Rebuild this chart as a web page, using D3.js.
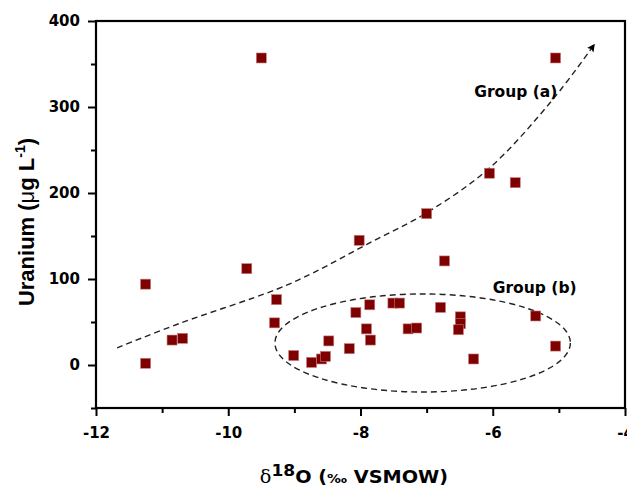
<!DOCTYPE html>
<html>
<head>
<meta charset="utf-8">
<script src="https://cdn.jsdelivr.net/npm/d3@7"></script>
<style>
  body { margin: 0; background: #fff; }
  svg text { font-family: "DejaVu Sans", Arial, sans-serif; font-weight: bold; }
</style>
</head>
<body>
<div id="chart"></div>
<script>
    // Data
    var d18O = [-11.25, -11.25, -10.85, -10.69, -9.72, -9.50, -9.27, -9.30, -9.01, -8.74,
                -8.59, -8.53, -8.48, -8.17, -8.07, -8.02, -7.86, -7.91, -7.85, -7.51,
                -7.41, -7.28, -7.15, -7.00, -6.79, -6.73, -6.49, -6.49, -6.52, -6.29,
                -6.05, -5.66, -5.35, -5.05, -5.05];
    var uranium = [2, 94, 29, 31, 112, 357, 76, 49, 11, 3,
                   7, 10, 28, 19, 61, 145, 70, 42, 29, 72,
                   72, 42, 43, 176, 67, 121, 56, 48, 41, 7,
                   223, 212, 57, 22, 357];

    // Group (a) trend curve (x, y pairs in data units)
    var trendX = [-11.68, -10.73, -9.27, -8.72, -7.91, -7.0, -6.05, -5.1, -4.47];
    var trendY = [20, 48.5, 88, 107, 140, 177, 229, 308, 372];

    // Group (b) ellipse in data units
    var ellipseCenter = [-7.06, 25.6];
    var ellipseRadius = [2.234, 57];

    var xTicks = [-12, -10, -8, -6, -4];
    var yTicks = [0, 100, 200, 300, 400];

    // Chart dimensions
    var margin = { top: 21, right: 2, bottom: 81, left: 96 };
    var width = 627 - margin.left - margin.right;
    var height = 489 - margin.top - margin.bottom;

    var svg = d3.select("#chart")
      .append("svg")
      .attr("width", 627)
      .attr("height", 489);

    var g = svg.append("g")
      .attr("transform", "translate(" + margin.left + "," + margin.top + ")");

    var xScale = d3.scaleLinear().domain([-12, -4]).range([0, width]);
    var yScale = d3.scaleLinear().domain([-50, 400]).range([height, 0]);

    // plain hyphen for negative labels
    var plain = function (d) { return String(d); };

    // Minor ticks
    var xMinor = d3.axisBottom(xScale).tickValues([-11, -9, -7, -5]).tickSize(5).tickFormat("");
    var yMinor = d3.axisLeft(yScale).tickValues([-50, 50, 150, 250, 350]).tickSize(5).tickFormat("");

    g.append("g").attr("transform", "translate(0," + height + ")").call(xMinor);
    g.append("g").call(yMinor);

    // Major axes
    var xAxis = d3.axisBottom(xScale).tickValues(xTicks).tickSize(8).tickPadding(8).tickFormat(plain);
    var yAxis = d3.axisLeft(yScale).tickValues(yTicks).tickSize(8).tickPadding(8).tickFormat(plain);

    g.append("g")
      .attr("class", "x-axis")
      .attr("transform", "translate(0," + height + ")")
      .call(xAxis);

    g.append("g")
      .attr("class", "y-axis")
      .call(yAxis);

    g.selectAll(".domain").remove();
    g.selectAll(".tick line").attr("stroke", "#000").attr("stroke-width", 2);
    g.selectAll(".tick text")
      .attr("fill", "#000")
      .style("font-size", "15px");
    g.selectAll(".x-axis .tick text").attr("dy", "0.9em");

    // Frame
    g.append("rect")
      .attr("x", 0)
      .attr("y", 0)
      .attr("width", width)
      .attr("height", height)
      .attr("fill", "none")
      .attr("stroke", "#000")
      .attr("stroke-width", 2.2);

    // Arrow marker
    svg.append("defs").append("marker")
      .attr("id", "arrow")
      .attr("viewBox", "0 0 10 10")
      .attr("refX", 8)
      .attr("refY", 5)
      .attr("markerWidth", 8)
      .attr("markerHeight", 8)
      .attr("markerUnits", "userSpaceOnUse")
      .attr("orient", "auto")
      .append("path")
      .attr("d", "M0,0 L10,5 L0,10 L2,5 Z")
      .attr("fill", "#000");

    // Group (a) trend
    var trend = trendX.map(function (x, i) { return [x, trendY[i]]; });
    var line = d3.line()
      .x(function (d) { return xScale(d[0]); })
      .y(function (d) { return yScale(d[1]); })
      .curve(d3.curveCatmullRom);

    g.append("path")
      .datum(trend)
      .attr("d", line)
      .attr("fill", "none")
      .attr("stroke", "#222")
      .attr("stroke-width", 1.4)
      .attr("stroke-dasharray", "6,4")
      .attr("marker-end", "url(#arrow)");

    // Group (b) ellipse
    g.append("ellipse")
      .attr("cx", xScale(ellipseCenter[0]))
      .attr("cy", yScale(ellipseCenter[1]))
      .attr("rx", xScale(ellipseCenter[0] + ellipseRadius[0]) - xScale(ellipseCenter[0]))
      .attr("ry", yScale(ellipseCenter[1]) - yScale(ellipseCenter[1] + ellipseRadius[1]))
      .attr("fill", "none")
      .attr("stroke", "#222")
      .attr("stroke-width", 1.4)
      .attr("stroke-dasharray", "6,4");

    // Points
    var points = d18O.map(function (x, i) { return { x: x, y: uranium[i] }; });
    var size = 10;
    g.selectAll(".point")
      .data(points)
      .enter()
      .append("rect")
      .attr("class", "point")
      .attr("x", function (d) { return xScale(d.x) - size / 2; })
      .attr("y", function (d) { return yScale(d.y) - size / 2; })
      .attr("width", size)
      .attr("height", size)
      .attr("fill", "#7f0000")
      .attr("stroke", "#c47a7a")
      .attr("stroke-width", 0.6);

    // Group labels
    g.append("text")
      .attr("x", xScale(-6.28))
      .attr("y", yScale(312))
      .style("font-size", "15.5px")
      .text("Group (a)");

    g.append("text")
      .attr("x", xScale(-6.0))
      .attr("y", yScale(84))
      .style("font-size", "15.5px")
      .text("Group (b)");

    // Axis titles
    var xTitle = svg.append("text")
      .attr("transform", "translate(354,483) scale(1.07,1)")
      .attr("text-anchor", "middle")
      .style("font-size", "18px");
    xTitle.append("tspan").style("font-weight", "normal").style("font-family", "'DejaVu Serif', serif").text("δ");
    xTitle.append("tspan").attr("dy", -7).style("font-size", "16px").text("18");
    xTitle.append("tspan").attr("dy", 7).text("O (");
    xTitle.append("tspan").style("font-size", "13px").text("‰");
    xTitle.append("tspan").text(" VSMOW)");

    var yTitle = svg.append("text")
      .attr("transform", "translate(34,222) rotate(-90)")
      .attr("text-anchor", "middle")
      .style("font-family", "Arial, 'Liberation Sans', sans-serif")
      .style("font-size", "22px");
    yTitle.append("tspan").text("Uranium (");
    yTitle.append("tspan").style("font-weight", "normal").text("μ");
    yTitle.append("tspan").text("g L");
    yTitle.append("tspan").attr("dy", -9).style("font-size", "14px").text("-1");
    yTitle.append("tspan").attr("dy", 9).text(")");
</script>
</body>
</html>
